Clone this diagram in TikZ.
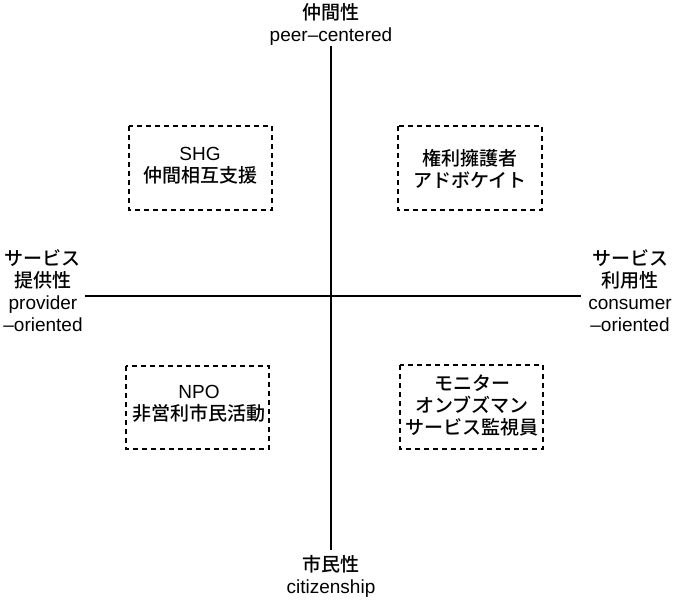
\documentclass[tikz,border=0pt]{standalone}
\usepackage{fontspec}
\setmainfont{Noto Sans CJK JP}[UprightFont={* Medium}]
\newfontfamily\lat{Liberation Sans}
\newcommand{\La}[1]{{\lat #1}}
\begin{document}
\begin{tikzpicture}[x=1pt,y=-1pt,
  lbl/.style={align=center,inner sep=0pt,font=\fontsize{19}{22}\selectfont},
  axis/.style={line width=1.3pt},
  qbox/.style={draw,dashed,dash pattern=on 5pt off 4pt,line width=1.6pt}]
\useasboundingbox (0,0) rectangle (677,602);
% axis labels
\node[lbl,anchor=north] (top) at (331,3) {仲間性\\\La{peer–centered}};
\node[lbl,anchor=south] (bot) at (331,598) {市民性\\\La{citizenship}};
\node[lbl] (left) at (43,291) {サービス\\提供性\\\La{provider}\\\La{–oriented}};
\node[lbl] (right) at (630,291) {サービス\\利用性\\\La{consumer}\\\La{–oriented}};
\coordinate (ltip) at (85,296);
\coordinate (rtip) at (581,296);
\coordinate (ttip) at (331,46);
\coordinate (btip) at (331,550);
\draw[axis] (ttip) -- (btip);
\draw[axis] (ltip) -- (rtip);
% boxes
\draw[qbox] (129,126) rectangle (272,210);
\draw[qbox] (398,126) rectangle (542,210);
\draw[qbox] (126,366) rectangle (269,449);
\draw[qbox] (400,365) rectangle (543,449);
\node[lbl] (shg) at (200,166) {\La{SHG}\\仲間相互支援};
\node[lbl] (adv) at (470,169) {権利擁護者\\アドボケイト};
\node[lbl] (npo) at (199,404) {\La{NPO}\\非営利市民活動};
\node[lbl] (mon) at (472,405) {モニター\\オンブズマン\\サービス監視員};
\end{tikzpicture}
\end{document}
